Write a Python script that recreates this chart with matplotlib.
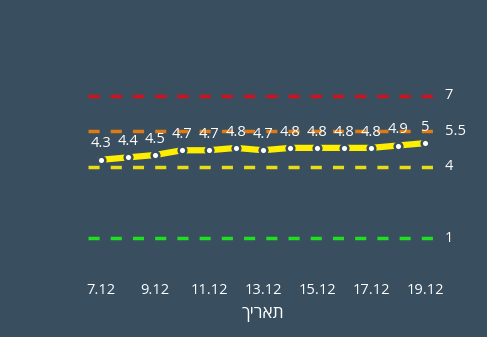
import matplotlib.pyplot as plt

dates = ['7.12', '8.12', '9.12', '10.12', '11.12', '12.12', '13.12',
         '14.12', '15.12', '16.12', '17.12', '18.12', '19.12']
values = [4.3, 4.4, 4.5, 4.7, 4.7, 4.8, 4.7, 4.8, 4.8, 4.8, 4.8, 4.9, 5]
ref_levels = [7, 5.5, 4, 1]
ref_colors = ['#d0121e', '#e07a12', '#e8dc14', '#1fe01f']
xlabel = 'תאריך'

bg = '#394f5f'
plt.rcParams['font.family'] = ['Open Sans', 'DejaVu Sans']

fig = plt.figure(figsize=(4.87, 3.37), dpi=100, facecolor=bg)
W, H = 487, 337
ax = fig.add_axes([87.5 / W, 1 - 265 / H, (438.5 - 87.5) / W, (265 - 60) / H])
ax.set_facecolor(bg)

x = list(range(len(dates)))
ax.set_xlim(-0.5, len(dates) - 0.5)
ax.set_ylim(-0.13, 8.5)

for lvl, col in zip(ref_levels, ref_colors):
    ax.axhline(lvl, color=col, lw=2.5, dashes=(3.2, 3.2))
    ax.text(1.018, lvl, str(lvl), transform=ax.get_yaxis_transform(),
            color='white', fontsize=10.5, va='center', ha='left')

ax.plot(x, values, color='#ffee00', lw=4.5, zorder=3)
ax.plot(x, values, 'o', color='white', ms=5.5, mec=bg, mew=1.8, zorder=4)

for xi, v in zip(x, values):
    ax.annotate(f'{v:g}', (xi, v), xytext=(0, 6), textcoords='offset points',
                ha='center', va='bottom', color='white', fontsize=10.5)

ax.set_xticks(x[::2])
ax.set_xticklabels(dates[::2], color='white', fontsize=10.5)
ax.tick_params(axis='x', length=0, pad=13)
ax.set_yticks([])
ax.set_xlabel(xlabel[::-1], color='white', fontsize=12.5, labelpad=6)
for s in ax.spines.values():
    s.set_visible(False)

fig.savefig('out.png', dpi=100, facecolor=bg)
